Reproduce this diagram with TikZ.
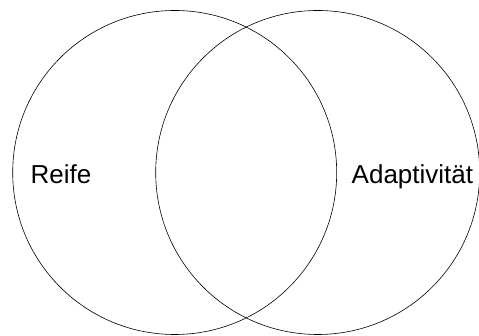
\documentclass[tikz,border=0pt]{standalone}
\usepackage{fontspec}
\setmainfont{Liberation Sans}
\usetikzlibrary{positioning}

\begin{document}
\begin{tikzpicture}[x=1pt,y=1pt]
  \useasboundingbox (0,0) rectangle (479,336);
  \tikzset{setring/.style={draw,circle,line width=0.6pt,minimum size=324pt,inner sep=0pt},
           setlabel/.style={font=\fontsize{26}{31}\selectfont,inner sep=0pt,anchor=base west}}
  \node[setring] (reifering) at (174.7,163.5) {};
  \node[setring] (adaptring) at (317.7,163.5) {};
  \node[setlabel] (reife) at (30.5,152.5) {Reife};
  \node[setlabel] (adapt) at (351.5,152.5) {Adaptivität};
\end{tikzpicture}
\end{document}
